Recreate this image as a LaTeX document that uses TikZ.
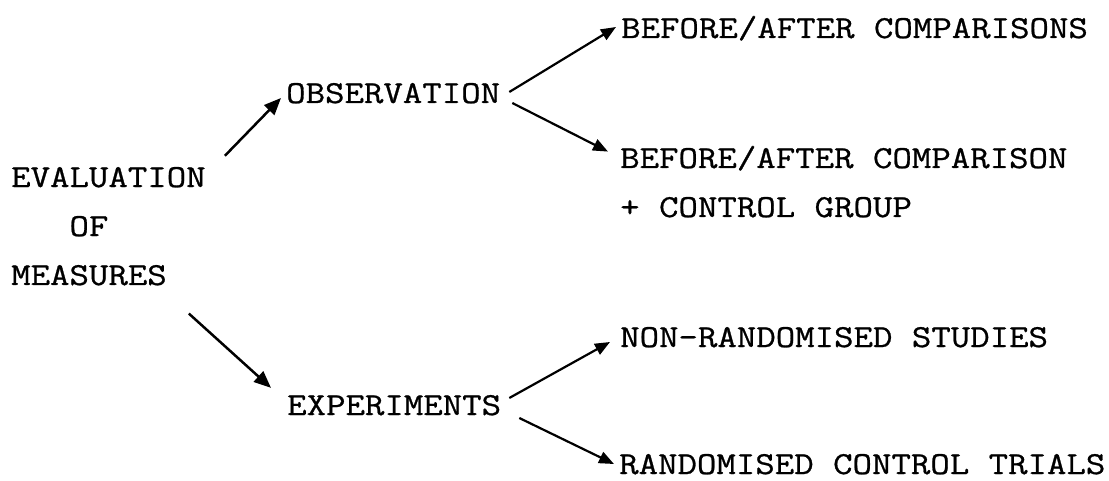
\documentclass[tikz,border=0pt]{standalone}
\usepackage{fontspec}
\usepackage{tikz}
\usetikzlibrary{arrows.meta}
\newfontfamily\typew[FakeStretch=1.18,FakeBold=0.8]{Latin Modern Mono}

\tikzset{
  lbl/.style={anchor=base west, inner sep=0pt, align=left,
    font=\typew\fontsize{32}{49}\selectfont},
  arr/.style={-{Triangle[length=17pt,width=14pt]}, line width=2.5pt},
  arrs/.style={-{Triangle[length=15pt,width=12pt]}, line width=2.2pt}
}

\begin{document}
\begin{tikzpicture}[x=1pt,y=-1pt]
    \useasboundingbox (0,0) rectangle (1109,481);

    % left column
    \node[lbl] (eval) at (11,285) {EVALUATION\\\phantom{EVA}OF\\MEASURES};

    % middle column
    \node[lbl] (obs) at (286,103) {OBSERVATION};
    \node[lbl] (exp) at (287,415) {EXPERIMENTS};

    % right column
    \node[lbl] (ba1) at (621,38) {BEFORE/AFTER COMPARISONS};
    \node[lbl] (ba2) at (620,217) {BEFORE/AFTER COMPARISON\\+ CONTROL GROUP};
    \node[lbl] (nonr) at (620,347) {NON-RANDOMISED STUDIES};
    \node[lbl] (rct) at (619,474) {RANDOMISED CONTROL TRIALS};

    % connectors
    \draw[arr] ([xshift=19pt,yshift=11pt]eval.north east) -- ([xshift=-5pt,yshift=5pt]obs.base west);
    \draw[arr] ([xshift=-17pt,yshift=-28pt]eval.south east) -- ([xshift=-16pt,yshift=7pt]exp.north west);
    \draw[arrs] ([xshift=9pt,yshift=11pt]obs.base east) -- ([xshift=-5pt,yshift=11pt]ba1.base west);
    \draw[arrs] ([xshift=12pt]obs.base east) -- ([xshift=-12pt,yshift=-6pt]ba2.north west);
    \draw[arrs] ([xshift=8pt,yshift=17pt]exp.base east) -- ([xshift=-10pt,yshift=5pt]nonr.base west);
    \draw[arrs] ([xshift=18pt,yshift=-3pt]exp.base east) -- ([xshift=-5pt,yshift=10pt]rct.base west);
\end{tikzpicture}
\end{document}
